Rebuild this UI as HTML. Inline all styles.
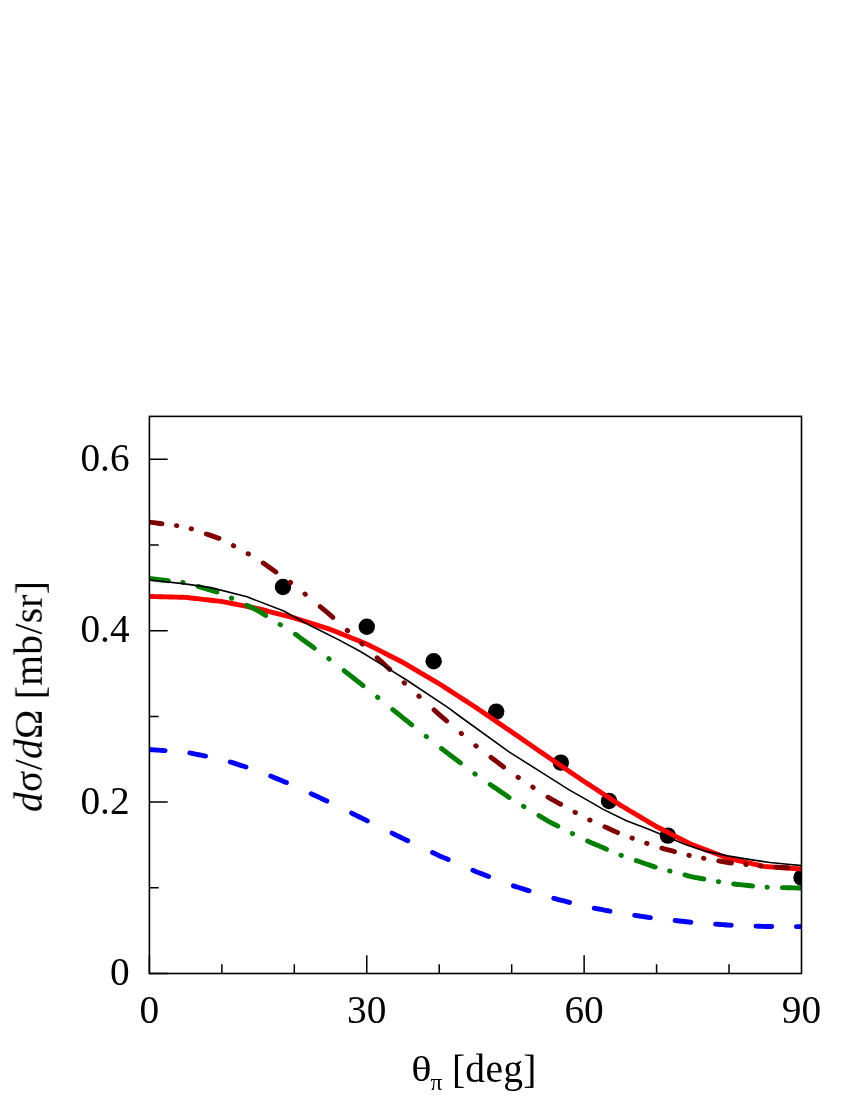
<!DOCTYPE html>
<html><head><meta charset="utf-8"><title>chart</title>
<style>
html,body{margin:0;padding:0;background:#fff;}
body{width:850px;height:1100px;overflow:hidden;font-family:"Liberation Serif",serif;}
svg{display:block}
text{font-family:"Liberation Serif",serif;fill:#000}
</style></head><body>
<svg width="850" height="1100" viewBox="0 0 850 1100">
<rect width="850" height="1100" fill="#fff"/>
<defs><clipPath id="cp"><rect x="149.4" y="416.4" width="652.1" height="557.1"/></clipPath></defs>
<g clip-path="url(#cp)">
<g fill="#000"><circle cx="282.97" cy="587.00" r="8.2"/><circle cx="366.77" cy="626.80" r="8.2"/><circle cx="433.65" cy="661.20" r="8.2"/><circle cx="496.24" cy="711.60" r="8.2"/><circle cx="560.87" cy="762.60" r="8.2"/><circle cx="609.02" cy="801.00" r="8.2"/><circle cx="667.93" cy="835.60" r="8.2"/><circle cx="801.50" cy="877.60" r="8.2"/></g>
<path d="M149.40,749.54 L151.64,749.70 L153.89,749.86 L156.13,750.02 L158.37,750.18 L160.61,750.34 L162.86,750.50 L165.10,750.66 M189.84,752.96 L192.08,753.41 L194.33,753.85 L196.57,754.30 L198.81,754.74 L201.05,755.18 L203.30,755.63 L205.54,756.07 M230.28,761.99 L232.52,762.70 L234.77,763.42 L237.01,764.14 L239.25,764.85 L241.49,765.57 L243.74,766.29 L245.98,767.00 M270.72,776.09 L272.96,777.01 L275.21,777.94 L277.45,778.87 L279.69,779.79 L281.93,780.72 L284.18,781.65 L286.42,782.57 M311.16,793.69 L313.40,794.73 L315.65,795.78 L317.89,796.82 L320.13,797.87 L322.37,798.91 L324.62,799.96 L326.86,801.01 M351.60,813.12 L353.84,814.23 L356.09,815.33 L358.33,816.44 L360.57,817.55 L362.81,818.66 L365.06,819.76 L367.30,820.87 M392.04,833.12 L394.28,834.23 L396.53,835.34 L398.77,836.45 L401.01,837.56 L403.25,838.67 L405.50,839.73 L407.74,840.79 M432.48,852.49 L434.72,853.55 L436.97,854.62 L439.21,855.68 L441.45,856.65 L443.69,857.63 L445.94,858.60 L448.18,859.57 M472.92,870.32 L475.16,871.30 L477.41,872.17 L479.65,873.03 L481.89,873.89 L484.13,874.75 L486.38,875.61 L488.62,876.46 M513.36,885.83 L515.60,886.55 L517.85,887.26 L520.09,887.98 L522.33,888.70 L524.57,889.41 L526.82,890.13 L529.06,890.84 M553.80,898.37 L556.04,898.94 L558.29,899.52 L560.53,900.09 L562.77,900.66 L565.01,901.24 L567.26,901.81 L569.50,902.39 M594.24,908.12 L596.48,908.56 L598.73,909.00 L600.97,909.45 L603.21,909.89 L605.45,910.33 L607.70,910.77 L609.94,911.21 M634.68,915.36 L636.92,915.69 L639.17,916.02 L641.41,916.34 L643.65,916.67 L645.89,917.00 L648.14,917.33 L650.38,917.66 M675.12,920.55 L677.36,920.79 L679.61,921.03 L681.85,921.27 L684.09,921.52 L686.33,921.76 L688.58,922.00 L690.82,922.24 M715.56,924.14 L717.80,924.31 L720.05,924.48 L722.29,924.64 L724.53,924.81 L726.77,924.98 L729.02,925.14 L731.26,925.23 M756.00,926.16 L758.24,926.24 L760.49,926.32 L762.73,926.41 L764.97,926.49 L767.21,926.51 L769.46,926.52 L771.70,926.53 M796.44,926.62 L798.97,926.63 L801.50,926.64" fill="none" stroke="#0000ff" stroke-width="4.9" stroke-linecap="round" stroke-linejoin="round"/>
<path d="M149.40,596.44 L151.38,596.49 L153.36,596.54 L155.35,596.59 L157.33,596.64 L159.31,596.69 L161.29,596.74 L163.27,596.80 L165.26,596.85 L167.24,596.90 L169.22,596.95 L171.20,597.00 L173.18,597.05 L175.17,597.10 L177.15,597.15 L179.13,597.21 L181.11,597.26 L183.10,597.31 L185.08,597.36 L187.06,597.54 L189.04,597.76 L191.02,597.99 L193.01,598.22 L194.99,598.44 L196.97,598.67 L198.95,598.90 L200.93,599.12 L202.92,599.35 L204.90,599.57 L206.88,599.80 L208.86,600.03 L210.84,600.25 L212.83,600.48 L214.81,600.71 L216.79,600.93 L218.77,601.16 L220.75,601.39 L222.74,601.68 L224.72,602.07 L226.70,602.46 L228.68,602.85 L230.66,603.23 L232.65,603.62 L234.63,604.01 L236.61,604.40 L238.59,604.79 L240.58,605.17 L242.56,605.56 L244.54,605.95 L246.52,606.34 L248.50,606.73 L250.49,607.11 L252.47,607.50 L254.45,607.89 L256.43,608.28 L258.41,608.69 L260.40,609.20 L262.38,609.72 L264.36,610.23 L266.34,610.74 L268.32,611.26 L270.31,611.77 L272.29,612.29 L274.27,612.80 L276.25,613.31 L278.23,613.83 L280.22,614.34 L282.20,614.86 L284.18,615.37 L286.16,615.88 L288.14,616.40 L290.13,616.91 L292.11,617.43 L294.09,617.94 L296.07,618.55 L298.06,619.18 L300.04,619.81 L302.02,620.43 L304.00,621.06 L305.98,621.68 L307.97,622.31 L309.95,622.94 L311.93,623.56 L313.91,624.19 L315.89,624.81 L317.88,625.44 L319.86,626.07 L321.84,626.69 L323.82,627.32 L325.80,627.94 L327.79,628.57 L329.77,629.20 L331.75,629.93 L333.73,630.73 L335.71,631.52 L337.70,632.32 L339.68,633.12 L341.66,633.92 L343.64,634.72 L345.62,635.52 L347.61,636.32 L349.59,637.12 L351.57,637.91 L353.55,638.71 L355.53,639.51 L357.52,640.31 L359.50,641.11 L361.48,641.91 L363.46,642.71 L365.45,643.50 L367.43,644.37 L369.41,645.38 L371.39,646.39 L373.37,647.40 L375.36,648.41 L377.34,649.42 L379.32,650.43 L381.30,651.43 L383.28,652.44 L385.27,653.45 L387.25,654.46 L389.23,655.47 L391.21,656.48 L393.19,657.49 L395.18,658.50 L397.16,659.50 L399.14,660.51 L401.12,661.52 L403.10,662.54 L405.09,663.70 L407.07,664.87 L409.05,666.03 L411.03,667.20 L413.01,668.37 L415.00,669.53 L416.98,670.70 L418.96,671.86 L420.94,673.03 L422.93,674.19 L424.91,675.36 L426.89,676.52 L428.87,677.69 L430.85,678.85 L432.84,680.02 L434.82,681.18 L436.80,682.35 L438.78,683.51 L440.76,684.77 L442.75,686.05 L444.73,687.33 L446.71,688.61 L448.69,689.89 L450.67,691.17 L452.66,692.45 L454.64,693.73 L456.62,695.01 L458.60,696.29 L460.58,697.57 L462.57,698.85 L464.55,700.13 L466.53,701.41 L468.51,702.69 L470.49,703.97 L472.48,705.25 L474.46,706.53 L476.44,707.85 L478.42,709.20 L480.41,710.56 L482.39,711.91 L484.37,713.27 L486.35,714.62 L488.33,715.98 L490.32,717.34 L492.30,718.69 L494.28,720.05 L496.26,721.40 L498.24,722.76 L500.23,724.11 L502.21,725.47 L504.19,726.82 L506.17,728.18 L508.15,729.54 L510.14,730.89 L512.12,732.25 L514.10,733.62 L516.08,734.98 L518.06,736.35 L520.05,737.72 L522.03,739.08 L524.01,740.45 L525.99,741.82 L527.97,743.18 L529.96,744.55 L531.94,745.92 L533.92,747.29 L535.90,748.65 L537.89,750.02 L539.87,751.39 L541.85,752.75 L543.83,754.12 L545.81,755.49 L547.80,756.85 L549.78,758.20 L551.76,759.54 L553.74,760.88 L555.72,762.22 L557.71,763.57 L559.69,764.91 L561.67,766.25 L563.65,767.59 L565.63,768.94 L567.62,770.28 L569.60,771.62 L571.58,772.96 L573.56,774.30 L575.54,775.65 L577.53,776.99 L579.51,778.33 L581.49,779.67 L583.47,781.02 L585.45,782.33 L587.44,783.62 L589.42,784.91 L591.40,786.21 L593.38,787.50 L595.37,788.80 L597.35,790.09 L599.33,791.39 L601.31,792.68 L603.29,793.97 L605.28,795.27 L607.26,796.56 L609.24,797.86 L611.22,799.15 L613.20,800.45 L615.19,801.74 L617.17,803.03 L619.15,804.33 L621.13,805.58 L623.11,806.76 L625.10,807.94 L627.08,809.12 L629.06,810.30 L631.04,811.48 L633.02,812.66 L635.01,813.84 L636.99,815.02 L638.97,816.20 L640.95,817.38 L642.93,818.56 L644.92,819.74 L646.90,820.92 L648.88,822.11 L650.86,823.29 L652.84,824.47 L654.83,825.65 L656.81,826.81 L658.79,827.81 L660.77,828.81 L662.76,829.81 L664.74,830.81 L666.72,831.82 L668.70,832.82 L670.68,833.82 L672.67,834.82 L674.65,835.82 L676.63,836.82 L678.61,837.82 L680.59,838.83 L682.58,839.83 L684.56,840.83 L686.54,841.83 L688.52,842.83 L690.50,843.83 L692.49,844.83 L694.47,845.62 L696.45,846.36 L698.43,847.11 L700.41,847.85 L702.40,848.59 L704.38,849.34 L706.36,850.08 L708.34,850.82 L710.32,851.56 L712.31,852.31 L714.29,853.05 L716.27,853.79 L718.25,854.54 L720.24,855.28 L722.22,856.02 L724.20,856.76 L726.18,857.51 L728.16,858.25 L730.15,858.82 L732.13,859.27 L734.11,859.71 L736.09,860.15 L738.07,860.59 L740.06,861.03 L742.04,861.47 L744.02,861.91 L746.00,862.35 L747.98,862.79 L749.97,863.23 L751.95,863.67 L753.93,864.11 L755.91,864.55 L757.89,864.99 L759.88,865.43 L761.86,865.87 L763.84,866.31 L765.82,866.66 L767.80,866.79 L769.79,866.92 L771.77,867.05 L773.75,867.18 L775.73,867.31 L777.72,867.45 L779.70,867.58 L781.68,867.71 L783.66,867.84 L785.64,867.97 L787.63,868.10 L789.61,868.23 L791.59,868.36 L793.57,868.49 L795.55,868.62 L797.54,868.75 L799.52,868.88 L801.50,869.01" fill="none" stroke="#ff0000" stroke-width="4.9" stroke-linejoin="round"/>
<path d="M149.40,578.53 L151.50,578.78 L153.60,579.02 L155.70,579.26 L157.80,579.51 L159.90,579.75 L162.00,579.99 L164.10,580.24 L166.20,580.48 L168.30,580.73 M182.70,582.40 L183.10,582.44 M198.09,586.45 L200.19,587.08 L202.29,587.70 L204.39,588.33 L206.49,588.95 L208.59,589.58 L210.69,590.20 L212.79,590.83 L214.89,591.46 L216.99,592.08 M231.39,598.05 L231.79,598.24 M246.78,605.33 L248.88,606.33 L250.98,607.32 L253.08,608.32 L255.18,609.31 L257.28,610.31 L259.38,611.50 L261.48,612.82 L263.58,614.14 L265.68,615.46 M280.08,624.50 L280.48,624.75 M295.47,634.29 L297.57,635.82 L299.67,637.36 L301.77,638.90 L303.87,640.43 L305.97,641.97 L308.07,643.51 L310.17,645.04 L312.27,646.58 L314.37,648.12 M328.77,658.65 L329.17,658.95 M344.16,670.70 L346.26,672.35 L348.36,674.01 L350.46,675.67 L352.56,677.32 L354.66,678.98 L356.76,680.64 L358.86,682.29 L360.96,683.95 L363.06,685.61 M377.46,697.18 L377.86,697.50 M392.85,709.62 L394.95,711.31 L397.05,713.01 L399.15,714.71 L401.25,716.40 L403.35,718.10 L405.45,719.78 L407.55,721.46 L409.65,723.14 L411.75,724.82 M426.15,736.33 L426.55,736.65 M441.54,748.55 L443.64,750.15 L445.74,751.74 L447.84,753.34 L449.94,754.94 L452.04,756.53 L454.14,758.13 L456.24,759.72 L458.34,761.32 L460.44,762.92 M474.84,773.86 L475.24,774.17 M490.23,784.48 L492.33,785.92 L494.43,787.37 L496.53,788.81 L498.63,790.25 L500.73,791.70 L502.83,793.14 L504.93,794.58 L507.03,796.03 L509.13,797.47 M523.53,806.36 L523.93,806.60 M538.92,815.63 L541.02,816.89 L543.12,818.16 L545.22,819.42 L547.32,820.69 L549.42,821.82 L551.52,822.89 L553.62,823.97 L555.72,825.04 L557.82,826.12 M572.22,833.50 L572.62,833.70 M587.61,841.09 L589.71,841.98 L591.81,842.88 L593.91,843.78 L596.01,844.68 L598.11,845.58 L600.21,846.47 L602.31,847.37 L604.41,848.27 L606.51,849.17 M620.91,855.27 L621.31,855.41 M636.30,860.57 L638.40,861.30 L640.50,862.02 L642.60,862.74 L644.70,863.46 L646.80,864.19 L648.90,864.91 L651.00,865.63 L653.10,866.36 L655.20,867.08 M669.60,870.96 L670.00,871.06 M684.99,874.98 L687.09,875.53 L689.19,876.08 L691.29,876.63 L693.39,877.13 L695.49,877.51 L697.59,877.88 L699.69,878.26 L701.79,878.64 L703.89,879.02 M718.29,881.61 L718.69,881.68 M733.68,884.01 L735.78,884.23 L737.88,884.44 L739.98,884.66 L742.08,884.87 L744.18,885.09 L746.28,885.30 L748.38,885.52 L750.48,885.73 L752.58,885.95 M766.98,887.28 L767.38,887.29 M782.37,887.62 L784.47,887.66 L786.57,887.71 L788.67,887.75 L790.77,887.80 L792.87,887.85 L794.97,887.89 L797.07,887.94 L799.17,887.98 L801.27,888.03" fill="none" stroke="#008000" stroke-width="4.9" stroke-linecap="round" stroke-linejoin="round"/>
<path d="M149.40,522.12 L151.50,522.39 L153.60,522.67 L155.70,522.94 L157.80,523.21 L159.90,523.48 L162.00,523.75 M176.40,525.62 L176.80,525.67 M191.10,528.70 L191.50,528.84 M206.34,533.97 L208.44,534.69 L210.54,535.42 L212.64,536.15 L214.74,536.87 L216.84,537.60 L218.94,538.32 M233.34,545.66 L233.74,545.88 M248.04,553.75 L248.44,553.97 M263.28,562.99 L265.38,564.48 L267.48,565.98 L269.58,567.47 L271.68,568.97 L273.78,570.46 L275.88,571.96 M290.28,582.22 L290.68,582.50 M304.98,593.97 L305.38,594.30 M320.22,606.65 L322.32,608.40 L324.42,610.15 L326.52,611.90 L328.62,613.65 L330.72,615.41 L332.82,617.31 M347.22,630.36 L347.62,630.73 M361.92,643.69 L362.32,644.05 M377.16,657.73 L379.26,659.68 L381.36,661.62 L383.46,663.57 L385.56,665.52 L387.66,667.47 L389.76,669.42 M404.16,682.76 L404.56,683.12 M418.86,696.12 L419.26,696.48 M434.10,709.97 L436.20,711.88 L438.30,713.78 L440.40,715.62 L442.50,717.41 L444.60,719.20 L446.70,720.99 M461.10,733.26 L461.50,733.60 M475.80,745.75 L476.20,746.05 M491.04,757.34 L493.14,758.94 L495.24,760.54 L497.34,762.13 L499.44,763.73 L501.54,765.33 L503.64,766.93 M518.04,777.28 L518.44,777.54 M532.74,787.07 L533.14,787.33 M547.98,797.21 L550.08,798.38 L552.18,799.55 L554.28,800.73 L556.38,801.90 L558.48,803.07 L560.58,804.25 M574.98,812.30 L575.38,812.52 M589.68,819.93 L590.08,820.11 M604.92,826.86 L607.02,827.81 L609.12,828.77 L611.22,829.72 L613.32,830.67 L615.42,831.63 L617.52,832.58 M631.92,838.01 L632.32,838.15 M646.62,843.26 L647.02,843.40 M661.86,848.20 L663.96,848.76 L666.06,849.31 L668.16,849.86 L670.26,850.41 L672.36,850.96 L674.46,851.51 M688.86,855.30 L689.26,855.40 M703.56,858.22 L703.96,858.29 M718.80,860.90 L720.90,861.27 L723.00,861.64 L725.10,862.00 L727.20,862.37 L729.30,862.72 L731.40,862.95 M745.80,864.50 L746.20,864.54 M760.50,866.08 L760.90,866.13 M775.74,867.14 L777.84,867.25 L779.94,867.35 L782.04,867.46 L784.14,867.57 L786.24,867.68 L788.34,867.79" fill="none" stroke="#800000" stroke-width="4.9" stroke-linecap="round" stroke-linejoin="round"/>
<path d="M149.40,580.00 L183.00,583.60 L211.00,587.60 L247.00,596.80 L283.80,611.00 L310.60,625.80 L324.70,632.80 L338.80,639.90 L360.00,651.20 L378.20,662.40 L406.50,680.00 L448.80,708.20 L460.00,716.50 L509.40,752.10 L551.80,778.90 L570.00,790.40 L591.20,802.40 L603.20,809.40 L626.50,820.70 L650.00,829.80 L685.30,844.60 L706.50,851.40 L727.70,855.90 L748.80,859.40 L770.00,862.50 L785.00,864.00 L801.50,865.60" fill="none" stroke="#000" stroke-width="1.6" stroke-linejoin="round"/>
</g>
<path d="M149.40,973.5 v-18.3 M221.86,973.5 v-9.3 M294.31,973.5 v-9.3 M366.77,973.5 v-18.3 M439.22,973.5 v-9.3 M511.68,973.5 v-9.3 M584.13,973.5 v-18.3 M656.59,973.5 v-9.3 M729.04,973.5 v-9.3 M149.4,973.50 h18.3 M149.4,887.79 h9.3 M149.4,802.08 h18.3 M149.4,716.38 h9.3 M149.4,630.67 h18.3 M149.4,544.96 h9.3 M149.4,459.25 h18.3" fill="none" stroke="#000" stroke-width="1.5"/>
<rect x="149.4" y="416.4" width="652.10" height="557.10" fill="none" stroke="#000" stroke-width="1.6"/>
<g font-size="39.3" opacity="0.999"><text x="149.40" y="1022.6" text-anchor="middle" transform="rotate(0.02 149.40 1022.6)">0</text><text x="366.77" y="1022.6" text-anchor="middle" transform="rotate(0.02 366.77 1022.6)">30</text><text x="584.13" y="1022.6" text-anchor="middle" transform="rotate(0.02 584.13 1022.6)">60</text><text x="801.50" y="1022.6" text-anchor="middle" transform="rotate(0.02 801.50 1022.6)">90</text><text x="129.6" y="985.30" text-anchor="end" transform="rotate(0.02 129.6 985.30)">0</text><text x="129.6" y="813.88" text-anchor="end" transform="rotate(0.02 129.6 813.88)">0.2</text><text x="129.6" y="642.47" text-anchor="end" transform="rotate(0.02 129.6 642.47)">0.4</text><text x="129.6" y="471.05" text-anchor="end" transform="rotate(0.02 129.6 471.05)">0.6</text></g>
<g font-size="39.5" opacity="0.999">
<text transform="translate(411.3,1081.3) scale(1.07,0.9)">θ</text>
<text x="430.6" y="1090.4" font-size="23.5">π</text>
<text x="451.9" y="1081.5" letter-spacing="0.3"><tspan dy="1.6">[</tspan><tspan dy="-1.6">deg</tspan><tspan dy="1.6">]</tspan></text>
<text transform="translate(41.8,812.0) rotate(-90)" letter-spacing="0.3"><tspan font-style="italic">d</tspan>σ/<tspan font-style="italic">d</tspan>Ω <tspan dy="1.6">[</tspan><tspan dy="-1.6">mb/sr</tspan><tspan dy="1.6">]</tspan></text>
</g>
</svg>
</body></html>
